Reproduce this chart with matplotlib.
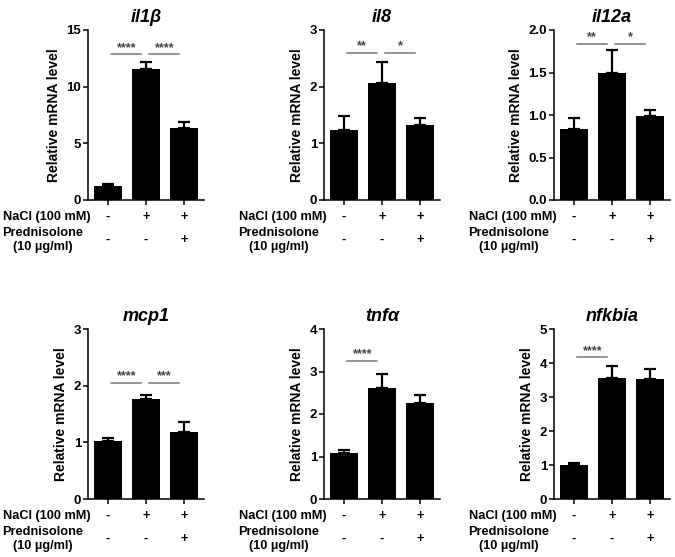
import matplotlib
matplotlib.use("Agg")
import matplotlib.pyplot as plt
import numpy as np

plt.rcParams['font.family'] = ['Liberation Sans', 'DejaVu Sans']
plt.rcParams['font.weight'] = 'bold'

# data (mean, SEM) for the 3 groups
genes = ['il1β', 'il8', 'il12a', 'mcp1', 'tnfα', 'nfkbia']
means = [
    [1.25, 11.55, 6.35],
    [1.23, 2.07, 1.32],
    [0.83, 1.50, 0.99],
    [1.02, 1.76, 1.18],
    [1.08, 2.62, 2.25],
    [1.00, 3.55, 3.53],
]
sems = [
    [0.15, 0.60, 0.50],
    [0.26, 0.37, 0.13],
    [0.14, 0.27, 0.07],
    [0.05, 0.08, 0.18],
    [0.07, 0.33, 0.20],
    [0.06, 0.37, 0.29],
]
ymax = [15, 3, 2.0, 3, 4, 5]
ystep = [5, 1, 0.5, 1, 1, 1]
# (group a, group b, height, label)
sig = [
    [(0, 1, 12.85, '****'), (1, 2, 12.85, '****')],
    [(0, 1, 2.6, '**'), (1, 2, 2.6, '*')],
    [(0, 1, 1.84, '**'), (1, 2, 1.84, '*')],
    [(0, 1, 2.05, '****'), (1, 2, 2.05, '***')],
    [(0, 1, 3.25, '****')],
    [(0, 1, 4.17, '****')],
]
nacl = ['-', '+', '+']
pred = ['-', '-', '+']

W, H = 675, 557
fig = plt.figure(figsize=(W / 100, H / 100), dpi=100)

lefts = [88, 324, 554]
bottoms = [200, 499]
aw, ah = 116, 170

for k in range(6):
    r, c = divmod(k, 3)
    ax = fig.add_axes([lefts[c] / W, (H - bottoms[r]) / H, aw / W, ah / H])
    x = np.arange(3)
    ax.bar(x, means[k], width=0.72, color='black', zorder=2)
    ax.errorbar(x, means[k], yerr=[np.zeros(3), sems[k]], fmt='none',
                ecolor='black', elinewidth=1.6, capsize=4.5, capthick=1.6,
                zorder=1)
    ax.set_xlim(-0.53, 2.53)
    ax.set_ylim(0, ymax[k])
    ax.set_yticks(np.arange(0, ymax[k] + 1e-9, ystep[k]))
    if k == 2:
        ax.set_yticklabels(['%.1f' % v for v in ax.get_yticks()])
    ax.set_xticks(x)
    ax.set_xticklabels([])
    for s in ['top', 'right']:
        ax.spines[s].set_visible(False)
    for s in ['left', 'bottom']:
        ax.spines[s].set_linewidth(1.1)
    ax.tick_params(width=1.1, length=3.5, labelsize=9.5, pad=1.5)
    ax.set_ylabel('Relative mRNA level', fontsize=10, fontweight='bold', labelpad=4)
    ax.set_title(genes[k], fontsize=13, fontweight='bold', fontstyle='italic', pad=6)

    for a, b, yv, lab in sig[k]:
        ax.plot([a + 0.08, b - 0.12], [yv, yv], color='#777777', lw=1.1,
                clip_on=False)
        ax.annotate(lab, xy=((a + b) / 2 - 0.02, yv), xytext=(0, 4.5),
                    textcoords='offset points', ha='center', va='center',
                    fontsize=9, color='#444444')

    tr = ax.get_xaxis_transform()
    for i in range(3):
        ax.text(i, -17 / ah, nacl[i], transform=tr, ha='center', va='center',
                fontsize=9.2)
        ax.text(i, -40 / ah, pred[i], transform=tr, ha='center', va='center',
                fontsize=9.2)
    ax.text(3 / aw, -17 / ah, 'NaCl (100 mM)', transform=ax.transAxes,
            ha='right', va='center', fontsize=9.2)
    ax.text(-5 / aw, -40 / ah, 'Prednisolone\n(10 µg/ml)', transform=ax.transAxes,
            ha='right', va='center', multialignment='center', fontsize=9.2,
            linespacing=1.2)

fig.savefig('out.png', dpi=100)
